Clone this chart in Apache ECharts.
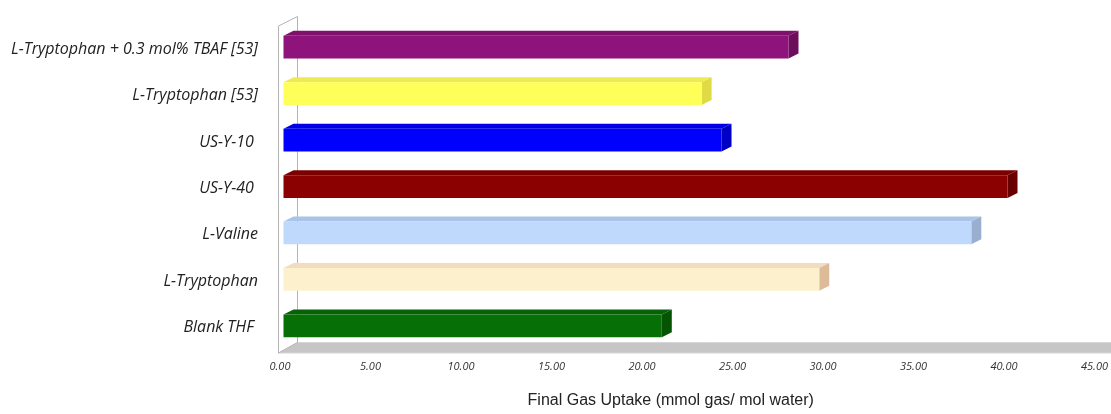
<!DOCTYPE html>
<html>
<head>
<meta charset="utf-8">
<script src="https://cdn.jsdelivr.net/npm/echarts@6/dist/echarts.min.js"></script>
<style>
  html, body { margin: 0; padding: 0; background: #fff; }
  #chart { width: 1111px; height: 414px; }
</style>
</head>
<body>
<div id="chart"></div>
<script>
// Categories, bottom to top
const categories = [
  'Blank THF ',
  'L-Tryptophan',
  'L-Valine',
  'US-Y-40 ',
  'US-Y-10 ',
  'L-Tryptophan [53]',
  'L-Tryptophan + 0.3 mol% TBAF [53]'
];
// Final gas uptake, mmol gas / mol water
const uptake = [20.9, 29.6, 38.0, 40.0, 24.2, 23.1, 27.9];
// Face, top and shaded side colours of each bar
const faceColors = ['#066f06', '#fdf0cd', '#bfd9fc', '#8b0000', '#0000ff', '#ffff59', '#8e137a'];
const topColors  = ['#056305', '#f3dcbd', '#aac3e8', '#7d0000', '#0000e6', '#efea50', '#7f116d'];
const sideColors = ['#045404', '#dcbb98', '#9aafd0', '#690000', '#0000c4', '#e0da45', '#6c0e5c'];
const axisMin = 0, axisMax = 45, axisStep = 5;

// depth of the 3D box (wall / floor) and of the bars
const BOX_DX = 19, BOX_DY = -9.5;
const BAR_FX = 3.5, BAR_FY = -2;   // bar front face offset from front plane
const BAR_DX = 10, BAR_DY = -5;    // bar thickness in depth

function renderBox(params, api) {
  const cs = params.coordSys;
  const x0 = cs.x, y0 = cs.y, w = cs.width, h = cs.height;
  const yb = y0 + h;
  return {
    type: 'group',
    children: [
      {
        type: 'polygon',
        shape: { points: [[x0 - 1.5, yb + 2], [x0 + BOX_DX - 1.5, yb + BOX_DY + 1], [x0 + w + BOX_DX + 20, yb + BOX_DY + 1], [x0 + w + 20, yb + 2]] },
        style: { fill: '#c6c6c6', stroke: '#d6d6d6', lineWidth: 1 }
      },
      {
        type: 'polygon',
        shape: { points: [[x0 - 1.5, y0], [x0 + BOX_DX - 1.5, y0 + BOX_DY], [x0 + BOX_DX - 1.5, yb + BOX_DY + 1], [x0 - 1.5, yb + 2]] },
        style: { fill: 'rgba(255,255,255,0)', stroke: '#b4b4b4', lineWidth: 1 }
      }
    ]
  };
}

function renderBar(params, api) {
  const v = api.value(0);
  const cat = api.value(1);
  const start = api.coord([0, cat]);
  const end = api.coord([v, cat]);
  const band = api.size([0, 1])[1];
  const hh = band * 0.49;
  const xa = start[0] + BAR_FX, xb = end[0] + BAR_FX;
  const yc = start[1] + BAR_FY;
  const yt = yc - hh / 2, ybt = yc + hh / 2;
  const i = params.dataIndex;
  return {
    type: 'group',
    children: [
      {
        type: 'polygon',
        shape: { points: [[xa, yt], [xa + BAR_DX, yt + BAR_DY], [xb + BAR_DX, yt + BAR_DY], [xb, yt]] },
        style: { fill: topColors[i] }
      },
      {
        type: 'polygon',
        shape: { points: [[xb, yt], [xb + BAR_DX, yt + BAR_DY], [xb + BAR_DX, ybt + BAR_DY], [xb, ybt]] },
        style: { fill: sideColors[i] }
      },
      {
        type: 'rect',
        shape: { x: xa, y: yt, width: xb - xa, height: ybt - yt },
        style: { fill: faceColors[i] }
      }
    ]
  };
}

const chart = echarts.init(document.getElementById('chart'), null, { renderer: 'canvas' });
chart.setOption({
  animation: false,
  backgroundColor: '#ffffff',
  grid: { left: 280, right: 14, top: 26, bottom: 57, containLabel: false },
  xAxis: {
    type: 'value',
    min: axisMin, max: axisMax, interval: axisStep,
    axisLine: { show: false },
    axisTick: { show: false },
    splitLine: { show: false },
    axisLabel: {
      margin: 10,
      color: '#333',
      fontFamily: 'Open Sans',
      fontStyle: 'italic',
      fontSize: 11,
      formatter: v => v.toFixed(2)
    },
    name: 'Final Gas Uptake (mmol gas/ mol water)',
    nameLocation: 'middle',
    nameGap: 42,
    nameTextStyle: {
      color: '#222',
      fontFamily: 'Liberation Sans',
      fontSize: 16,
      padding: [0, 33, 0, 0]
    }
  },
  yAxis: {
    type: 'category',
    data: categories,
    axisLine: { show: false },
    axisTick: { show: false },
    splitLine: { show: false },
    axisLabel: {
      margin: 22,
      color: '#222',
      fontFamily: 'Open Sans',
      fontStyle: 'italic',
      fontSize: 16
    }
  },
  series: [
    {
      type: 'custom',
      renderItem: renderBox,
      data: [[0, 0]],
      encode: { x: 0, y: 1 },
      silent: true,
      z: 1
    },
    {
      type: 'custom',
      renderItem: renderBar,
      data: uptake.map((v, i) => [v, i]),
      encode: { x: 0, y: 1 },
      z: 2
    }
  ]
});
</script>
</body>
</html>
